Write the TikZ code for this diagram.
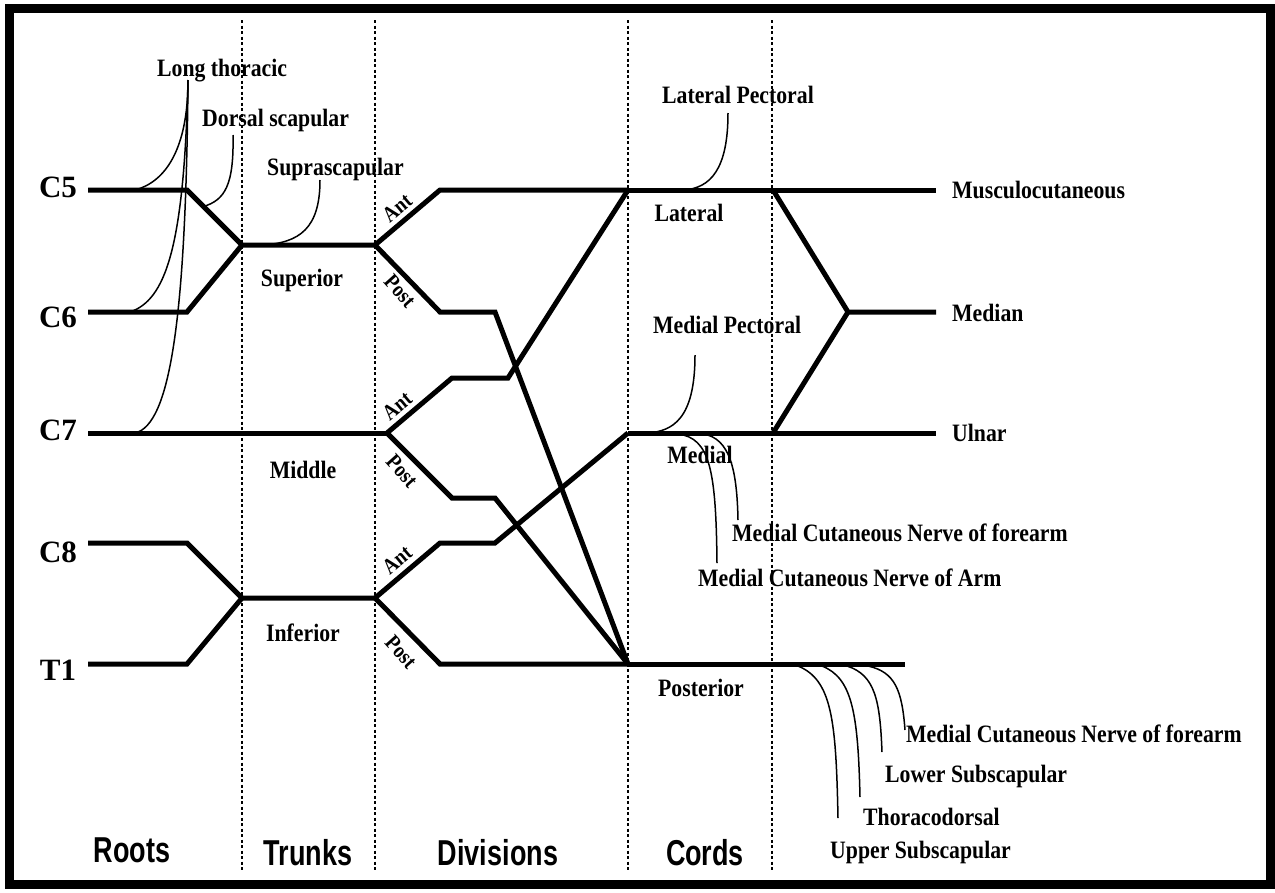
\documentclass[tikz,border=0pt]{standalone}
\usepackage{fontspec}
\newfontfamily\labfont{Liberation Serif}[FakeStretch=0.87]
\newfontfamily\rootfont{Liberation Serif}
\newfontfamily\stagefont{Liberation Sans}[FakeStretch=0.75]
\usetikzlibrary{calc}
\begin{document}
\begin{tikzpicture}[x=1pt,y=-1pt,
  nerve/.style={line width=5pt,line join=miter},
  leader/.style={line width=1.5pt},
  sep/.style={line width=1.4pt,dash pattern=on 3pt off 2.5pt},
  lbl/.style={font=\labfont\bfseries\fontsize{25}{28}\selectfont,inner sep=0pt},
  small/.style={font=\labfont\bfseries\fontsize{22}{24}\selectfont,inner sep=0pt},
  root/.style={font=\rootfont\bfseries\fontsize{31}{33}\selectfont,inner sep=0pt,anchor=base},
  stage/.style={font=\stagefont\bfseries\fontsize{36}{40}\selectfont,inner sep=0pt,anchor=base}]
\useasboundingbox (0,0) rectangle (1275,892);
\fill[white] (0,0) rectangle (1275,892);
\draw[line width=9pt] (9,8.5) rectangle (1270,884);

% dashed separators
\foreach \n/\x in {a/242,b/375,c/628,d/772}{
  \coordinate (s\n t) at (\x,20);
  \coordinate (s\n b) at (\x,870);
  \draw[sep] (s\n t) -- (s\n b);
}

% junction coordinates
\coordinate (C5a) at (88,190);  \coordinate (C5b) at (187,190);
\coordinate (C6a) at (88,312);  \coordinate (C6b) at (187,312);
\coordinate (C7a) at (88,433);
\coordinate (C8a) at (88,543);  \coordinate (C8b) at (187,543);
\coordinate (T1a) at (88,664);  \coordinate (T1b) at (187,664);
\coordinate (ST) at (242,245);  \coordinate (SD) at (375,245);
\coordinate (MD) at (387,433);
\coordinate (IT) at (242,598);  \coordinate (ID) at (375,598);
\coordinate (SA1) at (440,190);
\coordinate (SP1) at (440,312); \coordinate (SP2) at (495,312);
\coordinate (MA1) at (452,378); \coordinate (MA2) at (508,378);
\coordinate (MP1) at (452,498); \coordinate (MP2) at (495,498);
\coordinate (IA1) at (440,543); \coordinate (IA2) at (495,543);
\coordinate (IP1) at (440,664);
\coordinate (LC) at (628,190);  \coordinate (MC) at (628,433); \coordinate (PC) at (628,664);
\coordinate (LE) at (773,190);  \coordinate (UE) at (773,433); \coordinate (MN) at (848,312);
\coordinate (MuE) at (936,190); \coordinate (MeE) at (936,312); \coordinate (UlE) at (936,433);
\coordinate (PE) at (905,664);

% roots and trunks
\draw[nerve] (C5a) -- (C5b) -- (ST) -- (SD);
\draw[nerve] (C6a) -- (C6b) -- (ST);
\draw[nerve] (C7a) -- (MD);
\draw[nerve] (C8a) -- (C8b) -- (IT) -- (ID);
\draw[nerve] (T1a) -- (T1b) -- (IT);
% divisions
\draw[nerve] (SD) -- (SA1) -- (LC);
\draw[nerve] (SD) -- (SP1) -- (SP2) -- (PC);
\draw[nerve] (MD) -- (MA1) -- (MA2) -- (LC);
\draw[nerve] (MD) -- (MP1) -- (MP2) -- (PC);
\draw[nerve] (ID) -- (IA1) -- (IA2) -- (MC);
\draw[nerve] (ID) -- (IP1) -- (PC);
% cords and terminal branches
\draw[nerve] (LC) -- (MuE);
\draw[nerve] (LE) -- (MN) -- (MeE);
\draw[nerve] (MC) -- (UlE);
\draw[nerve] (UE) -- (MN);
\draw[nerve] (PC) -- (PE);

% root labels
\node[root] (c5) at (58,197) {C5};
\node[root] (c6) at (58,327) {C6};
\node[root] (c7) at (58,440) {C7};
\node[root] (c8) at (58,562) {C8};
\node[root] (t1) at (58,680) {T1};

% branch labels
\node[lbl,anchor=base west] (lt) at (157,76) {Long thoracic};
\node[lbl,anchor=base west] (ds) at (202,126) {Dorsal scapular};
\node[lbl,anchor=base west] (ss) at (267,175) {Suprascapular};
\node[lbl,anchor=base] (sup) at (302,286) {Superior};
\node[lbl,anchor=base] (mid) at (303,478) {Middle};
\node[lbl,anchor=base] (inf) at (303,641) {Inferior};
\node[lbl,anchor=base west] (lp) at (662,103) {Lateral Pectoral};
\node[lbl,anchor=base] (lat) at (689,221) {Lateral};
\node[lbl,anchor=base west] (mp) at (653,333) {Medial Pectoral};
\node[lbl,anchor=base] (med) at (700,463) {Medial};
\node[lbl,anchor=base] (post) at (701,696) {Posterior};
\node[lbl,anchor=base west] (mu) at (952,198) {Musculocutaneous};
\node[lbl,anchor=base west] (mn) at (952,321) {Median};
\node[lbl,anchor=base west] (ul) at (952,441) {Ulnar};
\node[lbl,anchor=base west] (mcf) at (732,541) {Medial Cutaneous Nerve of forearm};
\node[lbl,anchor=base west] (mca) at (698,586) {Medial Cutaneous Nerve of Arm};
\node[lbl,anchor=base west] (mcf2) at (906,742) {Medial Cutaneous Nerve of forearm};
\node[lbl,anchor=base west] (ls) at (885,782) {Lower Subscapular};
\node[lbl,anchor=base west] (td) at (863,825) {Thoracodorsal};
\node[lbl,anchor=base west] (us) at (830,858) {Upper Subscapular};

% division labels
\node[small,rotate=40] (a1) at (397,208) {Ant};
\node[small,rotate=-48] (p1) at (400,291) {Post};
\node[small,rotate=40] (a2) at (397,406) {Ant};
\node[small,rotate=-48] (p2) at (402,471) {Post};
\node[small,rotate=40] (a3) at (397,560) {Ant};
\node[small,rotate=-48] (p3) at (401,652) {Post};

% stage labels
\node[stage] (roots) at (132,862) {Roots};
\node[stage] (trunks) at (308,865) {Trunks};
\node[stage] (divs) at (498,865) {Divisions};
\node[stage] (cords) at (705,865) {Cords};

% leader curves
\coordinate (ltp) at (188,80);
\draw[leader] (ltp) .. controls (188,150) and (165,182) .. (135,190);
\draw[leader] (ltp) .. controls (184,250) and (165,300) .. (130,312);
\draw[leader] (ltp) .. controls (186,320) and (170,425) .. (135,433);
\coordinate (dsp) at (233,135);
\coordinate (dse) at ($(C5b)!0.3!(ST)$);
\draw[leader] (dsp) .. controls (234,185) and (225,200) .. (dse);
\coordinate (ssp) at (320,180);
\draw[leader] (ssp) .. controls (320,228) and (300,243) .. (262,245);
\coordinate (lpp) at (728,113);
\draw[leader] (lpp) .. controls (728,170) and (710,188) .. (684,190);
\coordinate (mpp) at (695,355);
\draw[leader] (mpp) .. controls (695,420) and (672,431) .. (648,433);
\draw[leader] (678,434) .. controls (710,438) and (716,470) .. (717,563);
\draw[leader] (703,434) .. controls (730,438) and (737,470) .. (738,520);
\draw[leader] (798,666) .. controls (832,680) and (836,720) .. (838,818);
\draw[leader] (822,666) .. controls (852,678) and (858,712) .. (860,797);
\draw[leader] (847,666) .. controls (875,675) and (880,700) .. (882,752);
\draw[leader] (868,666) .. controls (895,672) and (902,690) .. (905,730);
\end{tikzpicture}
\end{document}
